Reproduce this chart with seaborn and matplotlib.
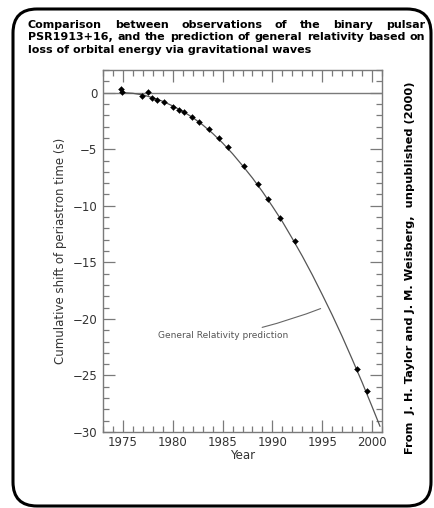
import numpy as np
import pandas as pd
import matplotlib
matplotlib.use("Agg")
import matplotlib.pyplot as plt
from matplotlib.patches import FancyBboxPatch
from matplotlib.transforms import IdentityTransform
from matplotlib.ticker import MultipleLocator
import seaborn as sns

obs_year = [1974.8, 1974.9, 1976.9, 1977.5, 1977.9, 1978.4, 1979.1, 1980.0, 1980.6,
            1981.1, 1981.9, 1982.6, 1983.6, 1984.6, 1985.5, 1987.2, 1988.6, 1989.6,
            1990.8, 1992.3, 1998.5, 1999.5]
obs_shift = [0.3, 0.05, -0.33, 0.03, -0.5, -0.62, -0.85, -1.3, -1.5,
             -1.68, -2.18, -2.56, -3.2, -4.0, -4.85, -6.5, -8.1, -9.4,
             -11.1, -13.1, -24.4, -26.4]

# general relativity prediction curve
gr_year = [1975, 1976, 1977, 1978, 1979, 1980, 1981, 1982, 1983, 1984, 1985, 1986,
           1987, 1988, 1989, 1990, 1991, 1992, 1993, 1994, 1995, 1996, 1997, 1998,
           1999, 2000, 2000.8]
gr_shift = [0.0, -0.06, -0.2, -0.45, -0.77, -1.18, -1.65, -2.2, -2.85, -3.6, -4.45, -5.4,
            -6.45, -7.55, -8.75, -10.05, -11.4, -12.9, -14.45, -16.1, -17.85, -19.65,
            -21.55, -23.55, -25.6, -27.75, -29.5]

title_lines = [
    "Comparison between observations of the binary pulsar",
    "PSR1913+16,  and the prediction of general relativity based on",
    "loss of orbital energy via gravitational waves",
]
credit = "From  J. H. Taylor and J. M. Weisberg,  unpublished (2000)"

sns.set_style("ticks")
plt.rcParams['font.family'] = ['DejaVu Sans']

W, H = 434, 508
fig = plt.figure(figsize=(W / 100, H / 100), dpi=100)
ax = fig.add_axes([103 / W, 1 - 432 / H, 279 / W, 362 / H])

axis_col = '#7a7a7a'
ax.axhline(0, color=axis_col, lw=1.0, zorder=1)
sns.lineplot(x=gr_year, y=gr_shift, ax=ax, color='#555555', lw=0.9, zorder=2)
sns.scatterplot(x=obs_year, y=obs_shift, ax=ax, marker='D', s=9, color='black',
                edgecolor='black', linewidth=0.3, zorder=3)

ax.set_xlim(1973, 2001)
ax.set_ylim(-30, 2)
ax.xaxis.set_major_locator(MultipleLocator(5))
ax.xaxis.set_minor_locator(MultipleLocator(1))
ax.yaxis.set_major_locator(MultipleLocator(5))
ax.yaxis.set_minor_locator(MultipleLocator(1))
ax.tick_params(which='both', direction='in', top=True, right=True, color=axis_col,
               width=0.9, labelcolor='#333333', labelsize=8.5)
ax.tick_params(which='major', length=8.5)
ax.tick_params(which='minor', length=4.5)
ax.tick_params(axis='y', pad=4)
ax.tick_params(axis='x', pad=3)
for s in ax.spines.values():
    s.set_color(axis_col)
    s.set_linewidth(1.0)

ax.set_xlabel('Year', fontsize=8.5, color='#333333', labelpad=0)
ax.set_ylabel('Cumulative shift of periastron time (s)', fontsize=8.5,
              color='#333333', labelpad=4)

ax.annotate('General Relativity prediction', xy=(1995.1, -19.0), xytext=(1991.6, -21.5),
            ha='right', va='center', fontsize=6.5, color='#555555',
            arrowprops=dict(arrowstyle='-', color='#666666', lw=0.8,
                            connectionstyle='arc3,rad=0.05'))

# title, justified like the original
renderer = fig.canvas.get_renderer()
tkw = dict(fontsize=8.0, fontweight='bold', color='black', va='center')
x0, x1 = 28, 425
ys = [25, 37.5, 50]
for i, line in enumerate(title_lines):
    yy = 1 - ys[i] / H
    if i == len(title_lines) - 1:
        fig.text(x0 / W, yy, line, ha='left', **tkw)
        continue
    words = line.split()
    texts = [fig.text(0, yy, w, ha='left', **tkw) for w in words]
    widths = [t.get_window_extent(renderer).width for t in texts]
    gap = (x1 - x0 - sum(widths)) / (len(words) - 1)
    x = x0
    for t, w in zip(texts, widths):
        t.set_x(x / W)
        x += w + gap

fig.text(410 / W, 1 - 268 / H, credit, rotation=90, ha='center', va='center',
         fontsize=8.2, fontweight='bold', color='black')

# rounded frame around the whole picture
frame = FancyBboxPatch((13, 2), 418, 497, boxstyle='round,pad=0,rounding_size=24',
                       transform=IdentityTransform(), fill=False, ec='black', lw=2.2)
fig.patches.append(frame)

fig.savefig('out.png', dpi=100)
